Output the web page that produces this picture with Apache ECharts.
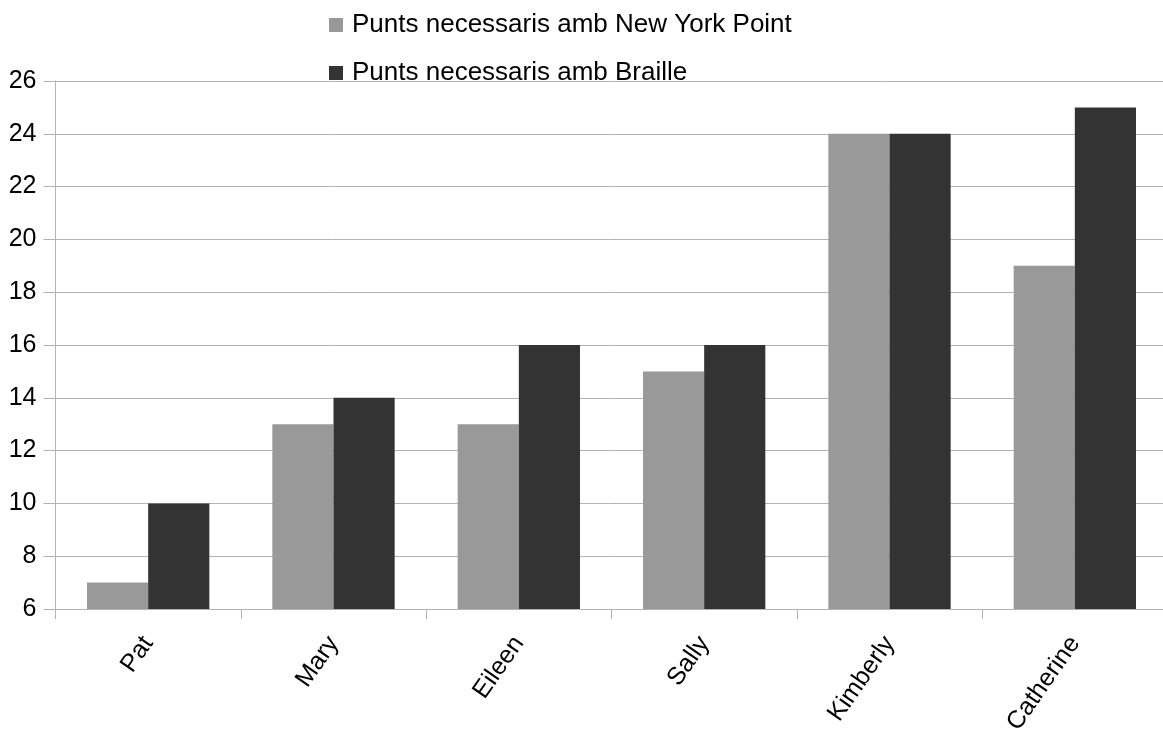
<!DOCTYPE html>
<html>
<head>
<meta charset="utf-8">
<script src="https://cdn.jsdelivr.net/npm/echarts@6/dist/echarts.min.js"></script>
<style>
  html, body { margin: 0; padding: 0; background: #ffffff; }
  #chart { width: 1163px; height: 729px; }
</style>
</head>
<body>
<div id="chart"></div>
<script>
// Dots needed per name in each tactile writing system
const categories = ['Pat', 'Mary', 'Eileen', 'Sally', 'Kimberly', 'Catherine'];
const newYorkPoint = [7, 13, 13, 15, 24, 19];
const braille = [10, 14, 16, 16, 24, 25];
const seriesNames = ['Punts necessaris amb New York Point', 'Punts necessaris amb Braille'];

const FONT = '"Liberation Sans", Arial, sans-serif';

const chart = echarts.init(document.getElementById('chart'), null, { renderer: 'canvas' });
chart.setOption({
  animation: false,
  backgroundColor: '#ffffff',
  textStyle: { fontFamily: FONT },
  legend: {
    orient: 'vertical',
    left: 324,
    top: 7,
    itemWidth: 14,
    itemHeight: 14,
    itemGap: 22,
    icon: 'rect',
    textStyle: { fontFamily: FONT, fontSize: 26, color: '#000000', padding: [0, 0, 0, 4] },
    data: seriesNames
  },
  grid: {
    left: 55.5,
    top: 81,
    width: 1112,
    height: 528,
    containLabel: false,
    outerBoundsMode: 'none'
  },
  xAxis: {
    type: 'category',
    data: categories,
    axisLine: { show: true, lineStyle: { color: '#b3b3b3', width: 1 } },
    axisTick: { show: true, length: 10, lineStyle: { color: '#b3b3b3' } },
    axisLabel: {
      rotate: 55,
      margin: 30,
      fontFamily: FONT,
      fontSize: 25,
      color: '#000000'
    },
    splitLine: { show: false }
  },
  yAxis: {
    type: 'value',
    min: 6,
    max: 26,
    interval: 2,
    axisLine: { show: true, lineStyle: { color: '#b3b3b3', width: 1 } },
    axisTick: { show: true, length: 12, lineStyle: { color: '#b3b3b3' } },
    axisLabel: { margin: 19, fontFamily: FONT, fontSize: 25, color: '#000000' },
    splitLine: { show: true, lineStyle: { color: '#b3b3b3', width: 1 } }
  },
  series: [
    {
      name: seriesNames[0],
      type: 'bar',
      data: newYorkPoint,
      barWidth: '33%',
      barGap: '0%',
      itemStyle: { color: '#999999' }
    },
    {
      name: seriesNames[1],
      type: 'bar',
      data: braille,
      barWidth: '33%',
      barGap: '0%',
      itemStyle: { color: '#333333' }
    }
  ]
});
</script>
</body>
</html>
